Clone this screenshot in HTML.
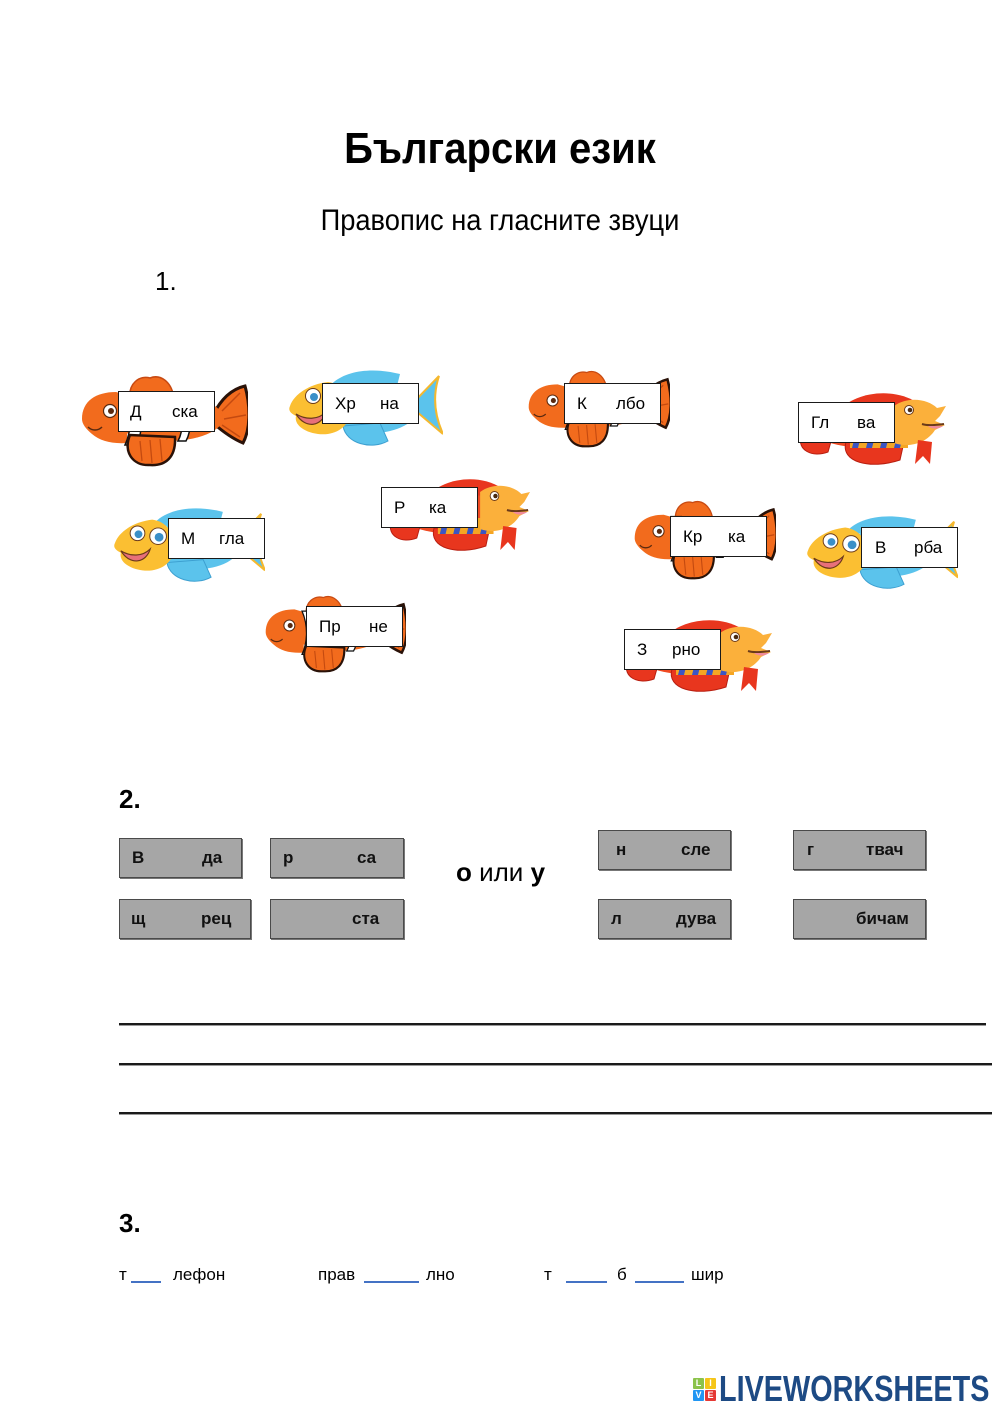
<!DOCTYPE html>
<html>
<head>
<meta charset="utf-8">
<style>
  html,body{margin:0;padding:0;background:#fff;}
  body{width:1000px;height:1414px;position:relative;overflow:hidden;font-family:"Liberation Sans","DejaVu Sans",sans-serif;color:#000;}
  .a{position:absolute;white-space:nowrap;}
  .fish{position:absolute;overflow:visible;}
  .box{position:absolute;width:95px;height:39px;background:#fff;border:1.5px solid #1a1a1a;font-size:17px;}
  .box span{position:absolute;top:0;line-height:39px;}
  .g{position:absolute;height:38px;background:#a6a6a6;border:1px solid #4a4a4a;box-shadow:1px 1px 0 #777;font-size:17px;font-weight:bold;color:#111;}
  .g span{position:absolute;top:0;line-height:37px;}
  .hl{position:absolute;height:2px;background:#1a1a1a;border-bottom:1px solid #999;}
  .ul{position:absolute;height:1.5px;background:#4472c4;}
  .t3{position:absolute;font-size:17px;line-height:22px;top:1264px;}
</style>
</head>
<body>
<svg width="0" height="0" style="position:absolute">
  <defs>
    <!-- clownfish, facing left, 168x92 -->
    <symbol id="clown" viewBox="0 0 168 92" preserveAspectRatio="none">
      <path d="M133,40 C141,24 152,14 165,11 C171,33 170,55 163,68 C151,63 141,55 133,48 Z" fill="#f26b1d" stroke="#2a1208" stroke-width="3"/>
      <path d="M142,36 L160,18 M144,44 L166,40 M142,50 L160,62" stroke="#c44a10" stroke-width="1.5"/>
      <path d="M50,24 C48,8 60,0 70,3 C80,-1 92,6 94,24 Z" fill="#f26b1d" stroke="#c84a12" stroke-width="1.5"/>
      <ellipse cx="88" cy="43" rx="55" ry="23" fill="#f26b1d"/>
      <path d="M98,21 C104,35 104,55 98,66 L106,66 C112,55 112,35 106,21 Z" fill="#fff" stroke="#111" stroke-width="1.5"/>
      <path d="M2,44 C2,26 16,17 36,17 L47,20 L47,68 C32,69 20,66 12,59 C6,54 2,49 2,44 Z" fill="#f26b1d"/>
      <path d="M45,19 C52,35 52,55 45,70 L57,70 C63,55 63,35 57,19 Z" fill="#fff" stroke="#111" stroke-width="1.5"/>
      <circle cx="30" cy="36" r="6.5" fill="#fff" stroke="#5a2a10" stroke-width="1.2"/>
      <circle cx="31" cy="36" r="3" fill="#5a2a10"/>
      <path d="M8,52 C12,56 18,56 22,52" stroke="#5a2a10" stroke-width="1.5" fill="none"/>
      <path d="M50,60 C43,76 52,91 70,90 C86,91 96,82 95,62 Z" fill="#f26b1d" stroke="#2a1208" stroke-width="2.5"/>
      <path d="M60,66 L62,86 M70,65 L72,88 M80,64 L82,86" stroke="#c44a10" stroke-width="1.3"/>
    </symbol>
    <!-- blue-yellow fish, facing left, 155x80 -->
    <symbol id="blue" viewBox="0 0 155 80" preserveAspectRatio="none">
      <path d="M122,38 L151,8 C145,26 146,46 155,66 Z" fill="#5bc3ec" stroke="#f5b82e" stroke-width="2"/>
      <path d="M40,20 C52,4 80,-2 112,6 L108,22 Z" fill="#5bc3ec"/>
      <ellipse cx="84" cy="40" rx="46" ry="25" fill="#5bc3ec"/>
      <path d="M55,58 C58,76 84,82 100,73 L92,55 Z" fill="#5bc3ec" stroke="#3c9fd0" stroke-width="1"/>
      <path d="M2,38 C6,26 22,16 40,14 C56,16 64,30 62,46 C60,60 46,68 30,66 C15,64 6,56 8,48 C2,45 0,42 2,38 Z" fill="#fbbf32"/>
      <path d="M8,46 C18,52 30,52 38,44 C34,58 18,62 8,46 Z" fill="#e8707a" stroke="#6b3a1a" stroke-width="1.2"/>
      <circle cx="25" cy="28" r="7.5" fill="#fff" stroke="#6b3a1a" stroke-width="1"/>
      <circle cx="26" cy="29" r="4" fill="#3a8fc8"/>
      <circle cx="46" cy="31" r="8.5" fill="#fff" stroke="#6b3a1a" stroke-width="1"/>
      <circle cx="47" cy="32" r="4.5" fill="#3a8fc8"/>
    </symbol>
    <!-- red-yellow fish, facing right, 148x76 -->
    <symbol id="red" viewBox="0 0 148 76" preserveAspectRatio="none">
      <path d="M40,22 C55,2 95,-3 118,12 L110,24 Z" fill="#e8361e"/>
      <ellipse cx="72" cy="38" rx="60" ry="20" fill="#f04a22"/>
      <path d="M3,46 C-1,60 14,68 30,62 L34,48 Z" fill="#e8361e" stroke="#b81e10" stroke-width="1"/>
      <path d="M48,52 C42,72 72,80 102,70 L106,52 Z" fill="#e8361e" stroke="#b81e10" stroke-width="1"/>
      <path d="M52,42 L110,42 L110,58 L52,58 Z" fill="#f5a623"/>
      <path d="M58,42 L64,42 L60,58 L54,58 Z M72,42 L78,42 L74,58 L68,58 Z M86,42 L92,42 L88,58 L82,58 Z M100,42 L106,42 L102,58 L96,58 Z" fill="#3b55c4"/>
      <path d="M96,16 C110,6 130,9 139,18 L148,16 L142,26 L137,31 L147,35 L137,40 C128,54 110,58 96,53 Z" fill="#fbb03b"/>
      <circle cx="111" cy="20" r="4.5" fill="#fff" stroke="#6b3a1a" stroke-width="1"/>
      <circle cx="112" cy="20" r="2.3" fill="#4a2a10"/>
      <path d="M124,34 C130,36 138,35 146,34" stroke="#6b3a1a" stroke-width="2" fill="none"/>
      <path d="M130,36 C135,40 141,39 145,36" fill="#f08a9a"/>
      <path d="M120,50 L117,74 L125,66 L132,74 L134,52 Z" fill="#e8361e"/>
    </symbol>
  </defs>
</svg>

<!-- Title -->
<div class="a" style="left:0;width:1000px;top:124px;text-align:center;font-size:44px;line-height:50px;font-weight:bold;transform:scaleX(0.91);transform-origin:500px 0;">Български език</div>
<div class="a" style="left:0;width:1000px;top:203px;text-align:center;font-size:30px;line-height:36px;transform:scaleX(0.91);transform-origin:500px 0;">Правопис на гласните звуци</div>
<div class="a" style="left:155px;top:266px;font-size:26px;line-height:30px;">1.</div>

<!-- Fish -->
<svg class="fish" style="left:80px;top:375px" width="168" height="92"><use href="#clown"/></svg>
<svg class="fish" style="left:288px;top:368px" width="155" height="80"><use href="#blue"/></svg>
<svg class="fish" style="left:527px;top:370px" width="143" height="78"><use href="#clown"/></svg>
<svg class="fish" style="left:798px;top:390px" width="148" height="76"><use href="#red"/></svg>
<svg class="fish" style="left:388px;top:476px" width="142" height="76"><use href="#red"/></svg>
<svg class="fish" style="left:113px;top:506px" width="152" height="78"><use href="#blue"/></svg>
<svg class="fish" style="left:633px;top:500px" width="143" height="80"><use href="#clown"/></svg>
<svg class="fish" style="left:806px;top:514px" width="152" height="77"><use href="#blue"/></svg>
<svg class="fish" style="left:264px;top:595px" width="142" height="78"><use href="#clown"/></svg>
<svg class="fish" style="left:624px;top:617px" width="148" height="76"><use href="#red"/></svg>

<div class="box" style="left:118px;top:391px"><span style="left:11px">Д</span><span style="left:53px">ска</span></div>
<div class="box" style="left:322px;top:383px"><span style="left:12px">Хр</span><span style="left:57px">на</span></div>
<div class="box" style="left:564px;top:383px"><span style="left:12px">К</span><span style="left:51px">лбо</span></div>
<div class="box" style="left:798px;top:402px"><span style="left:12px">Гл</span><span style="left:58px">ва</span></div>
<div class="box" style="left:381px;top:487px"><span style="left:12px">Р</span><span style="left:47px">ка</span></div>
<div class="box" style="left:168px;top:518px"><span style="left:12px">М</span><span style="left:50px">гла</span></div>
<div class="box" style="left:670px;top:516px"><span style="left:12px">Кр</span><span style="left:57px">ка</span></div>
<div class="box" style="left:861px;top:527px"><span style="left:13px">В</span><span style="left:52px">рба</span></div>
<div class="box" style="left:306px;top:606px"><span style="left:12px">Пр</span><span style="left:62px">не</span></div>
<div class="box" style="left:624px;top:629px"><span style="left:12px">З</span><span style="left:47px">рно</span></div>

<!-- Section 2 -->
<div class="a" style="left:119px;top:784px;font-size:26px;line-height:30px;font-weight:bold;">2.</div>

<div class="g" style="left:119px;top:838px;width:121px;"><span style="left:12px">В</span><span style="left:82px">да</span></div>
<div class="g" style="left:270px;top:838px;width:132px;"><span style="left:12px">р</span><span style="left:86px">са</span></div>
<div class="g" style="left:119px;top:899px;width:130px;"><span style="left:11px">щ</span><span style="left:81px">рец</span></div>
<div class="g" style="left:270px;top:899px;width:132px;"><span style="left:81px">ста</span></div>
<div class="g" style="left:598px;top:830px;width:131px;"><span style="left:17px">н</span><span style="left:82px">сле</span></div>
<div class="g" style="left:793px;top:830px;width:131px;"><span style="left:13px">г</span><span style="left:72px">твач</span></div>
<div class="g" style="left:598px;top:899px;width:131px;"><span style="left:12px">л</span><span style="left:77px">дува</span></div>
<div class="g" style="left:793px;top:899px;width:131px;"><span style="left:62px">бичам</span></div>

<div class="a" style="left:456px;top:856px;font-size:26px;line-height:32px;"><b>о</b> или <b>у</b></div>

<div class="hl" style="left:119px;top:1023px;width:867px;"></div>
<div class="hl" style="left:119px;top:1063px;width:873px;"></div>
<div class="hl" style="left:119px;top:1112px;width:873px;"></div>

<!-- Section 3 -->
<div class="a" style="left:119px;top:1208px;font-size:26px;line-height:30px;font-weight:bold;">3.</div>

<div class="t3" style="left:119px;">т</div>
<div class="ul" style="left:131px;top:1281px;width:30px;"></div>
<div class="t3" style="left:173px;">лефон</div>
<div class="t3" style="left:318px;">прав</div>
<div class="ul" style="left:364px;top:1281px;width:55px;"></div>
<div class="t3" style="left:426px;">лно</div>
<div class="t3" style="left:544px;">т</div>
<div class="ul" style="left:566px;top:1281px;width:41px;"></div>
<div class="t3" style="left:617px;">б</div>
<div class="ul" style="left:635px;top:1281px;width:49px;"></div>
<div class="t3" style="left:691px;">шир</div>

<!-- Logo -->
<div class="a" style="left:693px;top:1378px;width:11px;height:11px;background:#8bc34a;color:#fff;font-size:9px;line-height:11px;text-align:center;font-weight:bold;border-radius:1px;">L</div>
<div class="a" style="left:705px;top:1378px;width:11px;height:11px;background:#f5c518;color:#fff;font-size:9px;line-height:11px;text-align:center;font-weight:bold;border-radius:1px;">I</div>
<div class="a" style="left:693px;top:1390px;width:11px;height:11px;background:#2196f3;color:#fff;font-size:9px;line-height:11px;text-align:center;font-weight:bold;border-radius:1px;">V</div>
<div class="a" style="left:705px;top:1390px;width:11px;height:11px;background:#e53935;color:#fff;font-size:9px;line-height:11px;text-align:center;font-weight:bold;border-radius:1px;">E</div>
<div class="a" style="left:719px;top:1371px;font-size:36px;line-height:36px;font-weight:bold;color:#1d4a84;transform:scaleX(0.8);transform-origin:0 0;">LIVEWORKSHEETS</div>
</body>
</html>
